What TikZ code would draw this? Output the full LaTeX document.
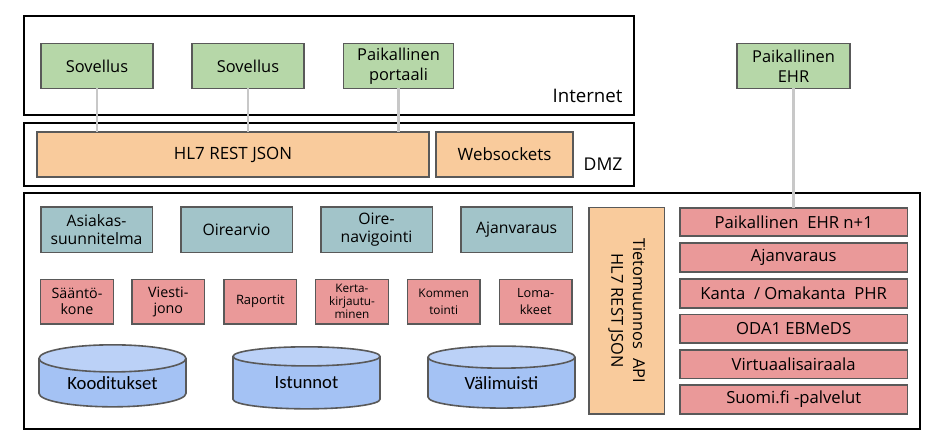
\documentclass[tikz,border=0pt]{standalone}
\usepackage{fontspec}
\setmainfont{Open Sans}
\newfontfamily\dbfont{Carlito}
\usetikzlibrary{shapes.geometric}

\definecolor{boxgreen}{RGB}{182,215,168}
\definecolor{boxorange}{RGB}{249,203,156}
\definecolor{boxteal}{RGB}{162,196,201}
\definecolor{boxred}{RGB}{234,153,153}
\definecolor{boxblue}{RGB}{164,194,244}
\definecolor{boxedge}{RGB}{89,89,89}
\definecolor{linkgrey}{RGB}{200,200,200}

\tikzset{every picture/.style={line width=0.75pt}}
\tikzset{
  zone/.style={draw=black, line width=1.7pt},
  unit/.style={draw=boxedge, line width=1.2pt, inner sep=0pt, outer sep=0pt, align=center},
  appbox/.style={unit, fill=boxgreen, minimum height=33.75pt, font=\fontsize{12.3}{15}\selectfont},
  apibox/.style={unit, fill=boxorange, minimum height=33.4pt, font=\fontsize{12.7}{15}\selectfont},
  svcbox/.style={unit, fill=boxteal, minimum width=83.7pt, minimum height=33.75pt, font=\fontsize{11.8}{13.3}\selectfont},
  modbox/.style={unit, fill=boxred, minimum width=54.5pt, minimum height=33.5pt, font=\fontsize{10.7}{12}\selectfont},
  tinybox/.style={modbox, font=\fontsize{8.8}{9.8}\selectfont},
  extbox/.style={unit, fill=boxred, minimum width=170.5pt, minimum height=21.4pt, font=\fontsize{12.5}{14}\selectfont},
  dbase/.style={cylinder, shape border rotate=90, aspect=0.3, draw=boxedge, line width=1.2pt,
    inner sep=0pt, outer sep=0pt, minimum width=110.25pt, minimum height=46.5pt,
    cylinder uses custom fill, cylinder body fill=boxblue, cylinder end fill=boxblue!75!white,
    font=\dbfont\fontsize{14}{16}\selectfont},
  zonelabel/.style={anchor=east, inner sep=0pt},
  link/.style={draw=linkgrey, line width=2pt}
}

\begin{document}
\begin{tikzpicture}[x=0.75pt,y=0.75pt,yscale=-1,xscale=1]
\useasboundingbox (0,0) rectangle (930,438);

%Shape: Rectangle [Internet]
\draw [zone] (24,16) rectangle (634,115);
%Shape: Rectangle [DMZ]
\draw [zone] (24,123) rectangle (634,186);
%Shape: Rectangle [Palvelin]
\draw [zone] (24,193) rectangle (920,429);

% Text Node
\node [zonelabel, font=\fontsize{14}{16}\selectfont] (internet) at (623,95.5) {Internet};
% Text Node
\node [zonelabel, font=\fontsize{13.2}{15}\selectfont] (dmz) at (623,164.5) {DMZ};

% Sovellukset
\node [appbox, minimum width=84pt] (sovellus1) at (97,66) {Sovellus};
\node [appbox, minimum width=84pt] (sovellus2) at (248,66) {Sovellus};
\node [appbox, minimum width=82.5pt] (portaali) at (398.5,66) {Paikallinen\\portaali};
\node [appbox, minimum width=84.75pt] (ehr) at (793.5,66) {Paikallinen\\EHR};

% DMZ
\node [apibox, minimum width=294pt] (hl7) at (233,154.5) {HL7 REST JSON};
\node [apibox, minimum width=102.75pt] (websockets) at (504.5,154.5) {Websockets};

% Palvelut
\node [svcbox] (asiakas) at (96.5,229.8) {Asiakas-\\suunnitelma};
\node [svcbox] (oirearvio) at (236.5,229.8) {Oirearvio};
\node [svcbox] (navigointi) at (376.5,229.8) {Oire-\\navigointi};
\node [svcbox] (ajanvaraus) at (516.7,229.8) {Ajanvaraus};

% Moduulit
\node [modbox] (saanto) at (77,301.7) {Sääntö-\\kone};
\node [modbox] (viesti) at (168.3,301.7) {Viesti-\\jono};
\node [modbox, font=\fontsize{9.7}{11}\selectfont] (raportit) at (260.3,301.7) {Raportit};
\node [tinybox] (kerta) at (352,301.7) {Kerta-\\kirjautu-\\minen};
\node [tinybox, font=\fontsize{8.9}{13}\selectfont] (kommentointi) at (443.7,301.7) {Kommen\\tointi};
\node [modbox, font=\fontsize{9.5}{13}\selectfont] (lomakkeet) at (535.7,301.7) {Loma-\\kkeet};

% Tietokannat
\node [dbase] (kooditukset) at (112.5,383) {Kooditukset};
\node [dbase] (istunnot) at (306.5,383) {Istunnot};
\node [dbase] (valimuisti) at (501.5,383) {Välimuisti};

% Tietomuunnos
\node [apibox, minimum width=56.5pt, minimum height=155pt] (muunnos) at (626.7,310.7) {};
\node [rotate=-90, align=center, inner sep=0pt, font=\fontsize{12.3}{16.3}\selectfont] (muunnosteksti) at (muunnos.center) {Tietomuunnos\ \ API\\HL7 REST JSON};

% Ulkoiset palvelut
\node [extbox] (ehrn) at (793.7,222) {Paikallinen\ \ EHR n+1};
\node [extbox] (ajanvaraus2) at (793.7,257.5) {Ajanvaraus};
\node [extbox] (kanta) at (793.7,293.5) {Kanta\ \ / Omakanta\ \ PHR};
\node [extbox] (oda) at (793.7,328.8) {ODA1 EBMeDS};
\node [extbox] (virtuaali) at (793.7,364.2) {Virtuaalisairaala};
\node [extbox] (suomifi) at (793.7,399.5) {Suomi.fi -palvelut};

% Yhteydet
\draw [link] (sovellus1.south) -- (sovellus1.south |- hl7.north);
\draw [link] (sovellus2.south) -- (sovellus2.south |- hl7.north);
\draw [link] (portaali.south) -- (portaali.south |- hl7.north);
\draw [link] (ehr.south) -- (ehr.south |- ehrn.north);

\end{tikzpicture}
\end{document}
